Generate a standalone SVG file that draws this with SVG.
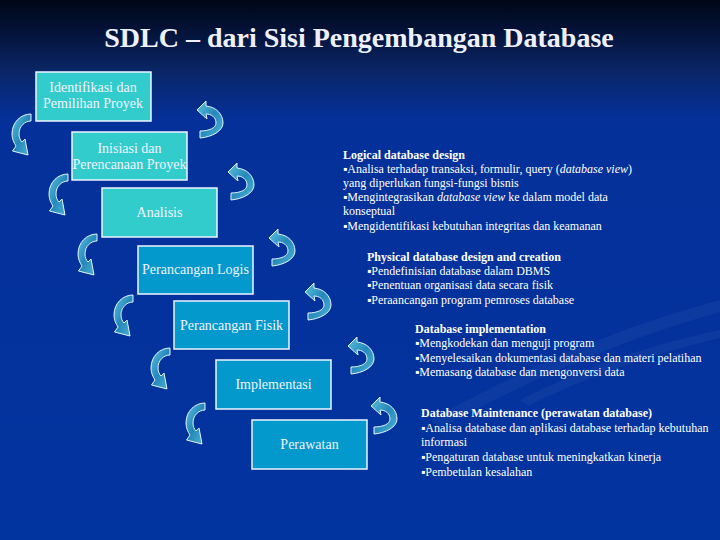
<svg xmlns="http://www.w3.org/2000/svg" xmlns:xlink="http://www.w3.org/1999/xlink" width="720" height="540" viewBox="0 0 720 540">
<defs>
<linearGradient id="bg" x1="0" y1="0" x2="0" y2="1">
<stop offset="0" stop-color="#000716"/>
<stop offset="0.06" stop-color="#04133a"/>
<stop offset="0.13" stop-color="#0a2666"/>
<stop offset="0.22" stop-color="#05309a"/>
<stop offset="1" stop-color="#02349f"/>
</linearGradient>
<linearGradient id="arr" x1="0" y1="0" x2="1" y2="1">
<stop offset="0" stop-color="#5cc3dc"/>
<stop offset="0.5" stop-color="#2488bb"/>
<stop offset="1" stop-color="#4fb6d6"/>
</linearGradient>
<path id="la" d="M20,0 C10,0 1,8 1,20 C1,25 3,29 5,32 L1.5,37 L17,41 L14,25 L11,28 C9,26 8,23 8,20 C8,12 14,7 20,7 Z"/>
<path id="ra" d="M0,9 L9,0 L9,5 C19,6 26,13 26,22 C26,30 15,36 3,37 L3,30 C12,30 19,27 19,22 C19,16 14,13 9,13 L10,18 Z"/>
</defs>
<style>
.box1{fill:#33cccc;stroke:#eef4ff;stroke-width:1.5}
.box2{fill:#0399cc;stroke:#eef4ff;stroke-width:1.5}
.bt{font-family:"Liberation Serif","Times New Roman",serif;font-size:14px;fill:#f2f2ff;text-anchor:middle}
.rt{font-family:"Liberation Serif","Times New Roman",serif;font-size:12px;fill:#ffffff}
.rh{font-weight:bold}
.it{font-style:italic}
.conn use{fill:url(#arr);stroke:#e2f4ff;stroke-width:1}
</style>
<rect width="720" height="540" fill="url(#bg)"/>
<path d="M430,420 C520,370 610,330 720,300 L720,312 C620,340 530,380 440,428 Z" fill="#ffffff" opacity="0.04"/>
<path d="M520,400 C590,365 650,345 720,330 L720,338 C650,355 590,375 528,406 Z" fill="#ffffff" opacity="0.04"/>

<text x="359" y="47" font-family="'Liberation Serif','Times New Roman',serif" font-size="28" font-weight="bold" fill="#eef0ff" text-anchor="middle">SDLC – dari Sisi Pengembangan Database</text>

<g id="identifikasi"><rect class="box1" x="36" y="72" width="115" height="49"/><text class="bt" x="93" y="92">Identifikasi dan</text><text class="bt" x="93" y="108">Pemilihan Proyek</text></g>
<g id="inisiasi"><rect class="box1" x="72" y="132" width="115" height="48"/><text class="bt" x="129.5" y="153">Inisiasi dan</text><text class="bt" x="129.5" y="169">Perencanaan Proyek</text></g>
<g id="analisis"><rect class="box1" x="102" y="188" width="115" height="49"/><text class="bt" x="159.5" y="217">Analisis</text></g>
<g id="logis"><rect class="box2" x="138" y="246" width="115" height="48"/><text class="bt" x="195.5" y="274">Perancangan Logis</text></g>
<g id="fisik"><rect class="box2" x="174" y="301" width="115" height="48"/><text class="bt" x="231.5" y="330">Perancangan Fisik</text></g>
<g id="implementasi"><rect class="box2" x="216" y="360" width="115" height="49"/><text class="bt" x="273.5" y="389">Implementasi</text></g>
<g id="perawatan"><rect class="box2" x="252" y="420" width="115" height="49"/><text class="bt" x="309.5" y="449">Perawatan</text></g>

<g id="connectors" class="conn">
<use xlink:href="#la" transform="translate(11,114)"/>
<use xlink:href="#la" transform="translate(48,174)"/>
<use xlink:href="#la" transform="translate(77,234)"/>
<use xlink:href="#la" transform="translate(113,295)"/>
<use xlink:href="#la" transform="translate(150,348)"/>
<use xlink:href="#la" transform="translate(185,403)"/>
<use xlink:href="#ra" transform="translate(197,101)"/>
<use xlink:href="#ra" transform="translate(228,163)"/>
<use xlink:href="#ra" transform="translate(269,229)"/>
<use xlink:href="#ra" transform="translate(305,283)"/>
<use xlink:href="#ra" transform="translate(348,337)"/>
<use xlink:href="#ra" transform="translate(371,397)"/>
</g>

<g id="logical-text">
<text class="rt rh" x="343" y="159">Logical database design</text>
<text class="rt" x="343" y="173">▪Analisa terhadap transaksi, formulir, query (<tspan class="it">database view</tspan>)</text>
<text class="rt" x="343" y="187">yang diperlukan fungsi-fungsi bisnis</text>
<text class="rt" x="343" y="201">▪Mengintegrasikan <tspan class="it">database view</tspan> ke dalam model data</text>
<text class="rt" x="343" y="215">konseptual</text>
<text class="rt" x="343" y="230">▪Mengidentifikasi kebutuhan integritas dan keamanan</text>
</g>
<g id="physical-text">
<text class="rt rh" x="367" y="261">Physical database design and creation</text>
<text class="rt" x="367" y="275">▪Pendefinisian database dalam DBMS</text>
<text class="rt" x="367" y="289">▪Penentuan organisasi data secara fisik</text>
<text class="rt" x="367" y="304">▪Peraancangan program pemroses database</text>
</g>
<g id="implementation-text">
<text class="rt rh" x="415" y="333">Database implementation</text>
<text class="rt" x="415" y="347">▪Mengkodekan dan menguji program</text>
<text class="rt" x="415" y="362">▪Menyelesaikan dokumentasi database dan materi pelatihan</text>
<text class="rt" x="415" y="376">▪Memasang database dan mengonversi data</text>
</g>
<g id="maintenance-text">
<text class="rt rh" x="421" y="417">Database Maintenance (perawatan database)</text>
<text class="rt" x="421" y="432">▪Analisa database dan aplikasi database terhadap kebutuhan</text>
<text class="rt" x="421" y="446">informasi</text>
<text class="rt" x="421" y="461">▪Pengaturan database untuk meningkatkan kinerja</text>
<text class="rt" x="421" y="476">▪Pembetulan kesalahan</text>
</g>
</svg>
